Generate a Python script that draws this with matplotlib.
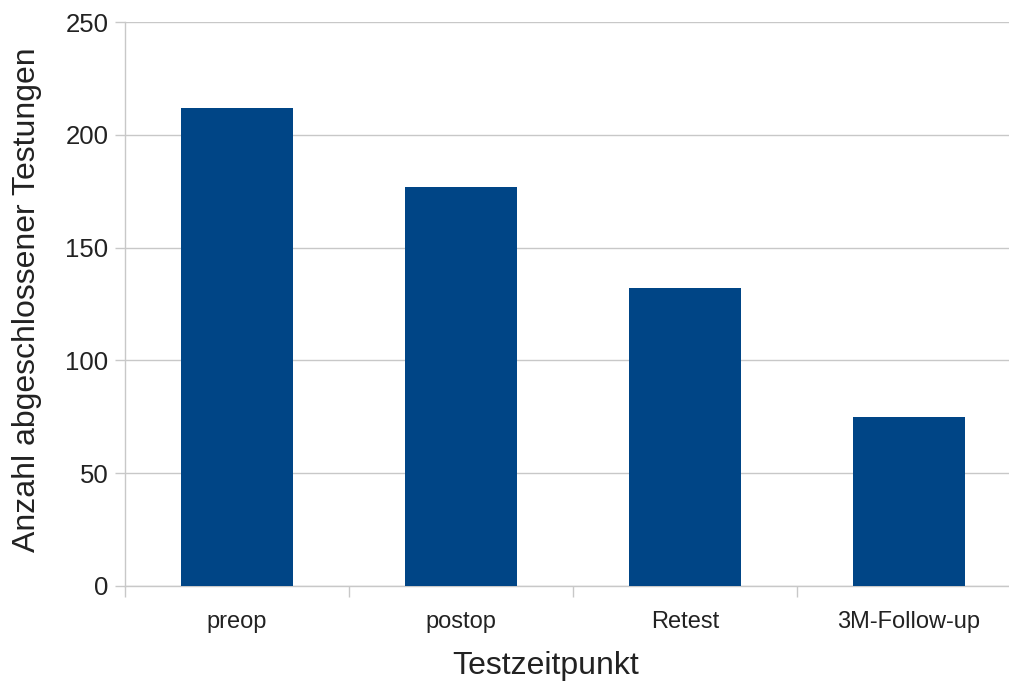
import matplotlib.pyplot as plt
import numpy as np

plt.rcParams['font.family'] = ['Liberation Sans', 'DejaVu Sans']

categories = ['preop', 'postop', 'Retest', '3M-Follow-up']
counts = [212, 177, 132, 75]
y_ticks = [0, 50, 100, 150, 200, 250]

bar_color = '#004586'
grid_color = '#c8c8c8'
text_color = '#222222'

fig = plt.figure(figsize=(10.09, 6.82), dpi=100)
ax = fig.add_axes([0.1239, 0.1408, 0.888, 0.8269])

x = np.arange(len(categories))
ax.bar(x, counts, width=0.5, color=bar_color, zorder=3)

ax.set_xlim(-0.5, len(categories) - 0.5)
ax.set_ylim(0, 250)
ax.set_yticks(y_ticks)
ax.yaxis.grid(True, color=grid_color, linewidth=1, zorder=0)

# category labels in the middle, ticks on the boundaries
ax.set_xticks(x)
ax.set_xticklabels(categories)
ax.set_xticks(np.arange(len(categories) + 1) - 0.5, minor=True)
ax.tick_params(axis='x', which='major', length=0, pad=18, labelsize=17, labelcolor=text_color)
ax.tick_params(axis='x', which='minor', length=8, width=1, color=grid_color)
ax.tick_params(axis='y', length=7, width=1, color=grid_color, pad=5, labelsize=18.5, labelcolor=text_color)

for side in ['top', 'right']:
    ax.spines[side].set_visible(False)
for side in ['left', 'bottom']:
    ax.spines[side].set_color(grid_color)
    ax.spines[side].set_linewidth(1)

ax.set_xlabel('Testzeitpunkt', fontsize=23, color=text_color)
ax.set_ylabel('Anzahl abgeschlossener Testungen', fontsize=23, color=text_color)
ax.xaxis.set_label_coords(0.469, -0.115)
ax.yaxis.set_label_coords(-0.093, 0.507)

fig.savefig('out.png', dpi=100)
